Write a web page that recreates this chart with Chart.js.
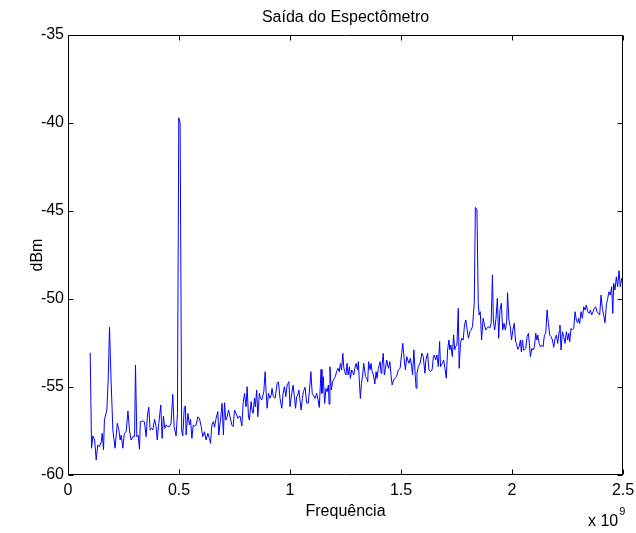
<!DOCTYPE html>
<html><head><meta charset="utf-8">
<script src="https://cdn.jsdelivr.net/npm/chart.js@4.4.1/dist/chart.umd.min.js"></script>
<style>html,body{margin:0;padding:0;background:#fff;}canvas{display:block}</style>
</head><body>
<canvas id="c" width="636" height="533"></canvas>
<script>
// Frequency in MHz (axis shown in units of 1e9 Hz)
const freqMHz = [
100,106,112,120,127,134,142,150,154,160,164,175,181,187,194,202,212,222,228,235,240,247,254,262,270,277,284,292,300,304,310,316,322,326,337,344,352,358,364,370,376,382,390,397,402,409,418,424,430,436,442,450,457,464,472,478,487,493,499,505,512,517,524,529,532,540,547,552,558,564,570,577,
585,592,600,607,615,622,630,637,642,648,655,660,667,675,679,687,694,700,705,711,717,723,730,738,744,750,757,765,769,775,783,789,795,802,807,813,817,825,829,834,840,844,850,855,862,867,873,882,888,892,897,903,910,915,919,925,933,942,948,955,963,969,975,981,987,995,1000,1008,1014,1020,1025,1030,1035,1040,1044,1050,
1056,1060,1068,1075,1082,1088,1094,1100,1107,1113,1120,1126,1132,1140,1144,1150,1156,1162,1167,1173,1176,1180,1186,1192,1200,1204,1210,1216,1222,1227,1232,1238,1242,1246,1252,1257,1262,1268,1272,1278,1282,1287,1292,1298,1304,1308,1312,1317,1322,1328,1332,1336,1340,1346,1350,1354,1360,1365,1370,1376,1382,1388,1392,1398,1406,1410,1414,1420,1425,1430,1436,1440,1444,1450,1455,1460,1467,1472,1480,1488,1496,1503,1508,1514,1520,
1526,1530,1536,1542,1548,1552,1558,1564,1568,1572,1578,1586,1594,1600,1608,1612,1620,1626,1632,1640,1646,1650,1656,1662,1668,1674,1678,1686,1692,1698,1704,1710,1716,1720,1725,1731,1737,1742,1746,1752,1758,1762,1768,1774,1780,1786,1792,1798,1804,1810,1816,1822,1830,1835,1842,1848,1852,1857,1863,1870,1876,1882,1888,1894,1900,1906,1912,1916,1922,1928,1934,1940,1946,1952,1958,1964,1970,1976,1980,1986,1992,1998,2004,2010,2016,
2020,2026,2032,2038,2042,2047,2052,2056,2062,2068,2074,2078,2083,2089,2095,2101,2107,2112,2116,2122,2128,2134,2140,2146,2152,2158,2164,2170,2176,2182,2188,2194,2200,2206,2212,2216,2221,2227,2233,2239,2245,2251,2256,2260,2266,2272,2278,2284,2290,2296,2300,2305,2311,2317,2323,2329,2335,2341,2347,2353,2359,2365,2371,2377,2383,2389,2395,2401,2407,2413,2419,2425,2431,2437,2443,2449,2454,2458,2464,2470,2476,2482,2488,2494,2500
];
const dBm = [
-53.05,-58.48,-57.78,-58.01,-59.15,-58.30,-58.39,-58.11,-57.63,-58.58,-56.87,-56.31,-54.60,-51.60,-54.60,-57.44,-58.48,-57.06,-57.35,-58.01,-57.73,-58.48,-57.63,-57.54,-56.36,-57.44,-58.01,-57.82,-57.82,-53.75,-57.82,-57.73,-58.54,-56.97,-56.93,-56.97,-57.82,-56.59,-56.15,-57.44,-57.35,-57.44,-56.84,-57.25,-58.01,-57.06,-56.02,-57.92,-56.65,-57.35,-57.16,-57.25,-57.25,-57.06,-55.42,-57.25,-57.78,-56.50,-39.70,-40.00,-57.50,-57.78,-56.15,-56.08,-57.73,-56.50,-57.16,-56.84,-57.92,-57.16,-57.22,-57.16,
-56.69,-56.78,-57.25,-57.82,-57.54,-58.01,-57.63,-57.92,-58.20,-57.16,-56.97,-57.29,-56.78,-56.40,-57.73,-56.88,-55.93,-57.73,-55.89,-56.88,-56.69,-56.31,-56.69,-57.16,-57.25,-56.31,-56.50,-56.78,-56.69,-56.65,-57.22,-55.93,-55.36,-56.12,-54.98,-56.72,-56.88,-55.83,-56.31,-56.50,-55.64,-56.12,-55.17,-56.69,-55.36,-55.64,-55.74,-55.27,-54.13,-55.17,-56.21,-55.36,-55.64,-55.46,-55.08,-55.55,-55.64,-54.79,-54.70,-55.64,-56.21,-55.36,-54.98,-55.55,-54.89,-54.70,-56.12,-55.36,-54.89,-55.55,-56.21,-55.55,-55.46,-55.17,-55.64,-56.31,
-55.65,-55.27,-55.02,-55.90,-55.93,-55.17,-54.13,-55.36,-55.51,-55.65,-55.36,-55.70,-56.16,-54.00,-55.36,-54.41,-55.93,-55.08,-55.27,-54.89,-55.97,-53.85,-55.17,-54.70,-54.51,-54.41,-54.13,-53.94,-54.13,-53.66,-54.03,-53.09,-53.85,-54.13,-54.32,-53.66,-54.32,-53.85,-54.51,-54.03,-54.13,-54.32,-53.94,-53.66,-54.03,-53.56,-54.60,-55.65,-54.80,-54.22,-53.66,-54.03,-54.41,-54.51,-54.70,-53.56,-54.03,-53.66,-54.13,-54.32,-54.83,-54.13,-54.51,-53.94,-53.56,-54.22,-53.85,-53.09,-54.32,-53.94,-53.47,-53.75,-53.94,-53.56,-54.32,-54.88,-54.60,-54.51,-54.41,-54.03,-53.94,-53.09,-52.52,-53.37,-54.03,
-53.27,-53.46,-53.65,-53.37,-53.84,-54.31,-52.89,-54.31,-55.07,-54.22,-53.84,-53.65,-53.08,-53.27,-54.22,-53.46,-53.08,-54.03,-54.12,-54.03,-53.27,-53.18,-53.46,-53.18,-53.84,-52.42,-53.84,-53.65,-53.46,-53.94,-54.50,-52.89,-52.33,-52.89,-52.61,-53.27,-52.04,-52.89,-52.70,-52.61,-50.53,-53.94,-52.51,-52.23,-52.33,-51.47,-51.19,-51.76,-52.23,-51.85,-51.76,-51.57,-50.24,-44.80,-44.90,-50.24,-50.91,-50.72,-52.33,-51.09,-51.47,-51.76,-51.66,-51.57,-51.66,-51.38,-48.63,-51.19,-51.76,-51.09,-49.96,-52.23,-50.62,-50.24,-51.76,-51.38,-51.76,-51.28,-49.64,-51.19,-51.57,-52.33,-51.76,-51.38,-52.42,
-52.52,-52.86,-52.71,-52.33,-53.00,-52.33,-52.90,-52.90,-52.81,-52.14,-51.95,-52.52,-53.28,-52.81,-52.90,-52.71,-51.95,-52.33,-52.05,-52.52,-52.71,-52.62,-52.71,-52.05,-51.95,-50.63,-51.39,-52.05,-52.14,-52.33,-52.75,-52.24,-52.05,-52.52,-51.86,-51.48,-52.90,-51.86,-52.14,-52.52,-51.86,-52.33,-51.95,-52.43,-51.67,-51.76,-51.67,-50.72,-51.20,-51.35,-51.10,-51.39,-50.72,-51.10,-50.44,-50.63,-50.34,-50.72,-50.82,-50.63,-50.91,-50.72,-50.53,-50.44,-50.72,-50.82,-50.91,-49.78,-50.53,-50.91,-51.35,-50.34,-49.97,-49.59,-49.78,-49.30,-50.82,-49.11,-49.49,-48.74,-49.30,-48.39,-49.30,-48.83,-48.74
];
const xTicks = [0, 0.5, 1, 1.5, 2, 2.5];
const yTicks = [-60, -55, -50, -45, -40, -35];
const chartTitle = 'Saída do Espectômetro';
const xLabel = 'Frequência';
const yLabel = 'dBm';
const xExponent = '9';

const FONT = 'Liberation Sans, Arial, Helvetica, sans-serif';
const FS = 16;

const framePlugin = {
  id: 'matlabFrame',
  afterDraw(chart) {
    const {ctx, chartArea: a, scales: {x, y}} = chart;
    const L = Math.round(a.left) + 0.5, R = Math.round(a.right) - 0.5;
    const T = Math.round(a.top) + 0.5, B = Math.round(a.bottom) - 0.5;
    ctx.save();
    ctx.strokeStyle = '#000';
    ctx.lineWidth = 1;
    ctx.beginPath();
    ctx.rect(L, T, R - L, B - T);
    const tl = 5;
    xTicks.forEach(v => {
      const px = Math.round(x.getPixelForValue(v)) + 0.5;
      ctx.moveTo(px, B); ctx.lineTo(px, B - tl);
      ctx.moveTo(px, T); ctx.lineTo(px, T + tl);
    });
    yTicks.forEach(v => {
      const py = Math.round(y.getPixelForValue(v)) + 0.5;
      ctx.moveTo(L, py); ctx.lineTo(L + tl, py);
      ctx.moveTo(R, py); ctx.lineTo(R - tl, py);
    });
    ctx.stroke();
    ctx.fillStyle = '#000';
    // title centred over the plot area
    ctx.font = FS + 'px ' + FONT;
    ctx.textAlign = 'center';
    ctx.textBaseline = 'middle';
    ctx.fillText(chartTitle, (a.left + a.right) / 2, 18);
    // exponent label "x 10^9"
    ctx.textAlign = 'left';
    const base = 'x 10';
    const w = ctx.measureText(base).width;
    const sx = a.right - 35;
    ctx.fillText(base, sx, 522);
    ctx.font = '11px ' + FONT;
    ctx.fillText(xExponent, sx + w + 1, 512);
    ctx.restore();
  }
};

new Chart(document.getElementById('c'), {
  type: 'line',
  data: {
    datasets: [{
      data: freqMHz.map((f, i) => ({x: f / 1000, y: dBm[i]})),
      borderColor: '#0000ff',
      borderWidth: 1,
      pointRadius: 0,
      tension: 0,
      fill: false
    }]
  },
  options: {
    responsive: false,
    animation: false,
    devicePixelRatio: 1,
    layout: {padding: {left: 0, right: 13, top: 35, bottom: 0}},
    plugins: {
      legend: {display: false},
      tooltip: {enabled: false},
      title: {display: false}
    },
    scales: {
      x: {
        type: 'linear', min: 0, max: 2.5,
        afterBuildTicks: s => { s.ticks = xTicks.map(v => ({value: v})); },
        afterFit: s => { s.height = 58; s.paddingLeft = 0; s.paddingRight = 0; },
        grid: {display: false, drawTicks: false},
        border: {display: false},
        ticks: {color: '#000', font: {family: FONT, size: FS}, padding: 6, maxRotation: 0, autoSkip: false,
                callback: v => String(v)},
        title: {display: true, text: xLabel, color: '#000', font: {family: FONT, size: FS},
                padding: {top: 0, bottom: 12}}
      },
      y: {
        type: 'linear', min: -60, max: -35,
        afterBuildTicks: s => { s.ticks = yTicks.map(v => ({value: v})); },
        afterFit: s => { s.width = 68; s.paddingTop = 0; s.paddingBottom = 0; },
        grid: {display: false, drawTicks: false},
        border: {display: false},
        ticks: {color: '#000', font: {family: FONT, size: FS}, padding: 4, autoSkip: false,
                callback: v => String(v)},
        title: {display: true, text: yLabel, color: '#000', font: {family: FONT, size: FS},
                padding: {top: 28, bottom: 0}}
      }
    }
  },
  plugins: [framePlugin]
});
</script>
</body></html>
